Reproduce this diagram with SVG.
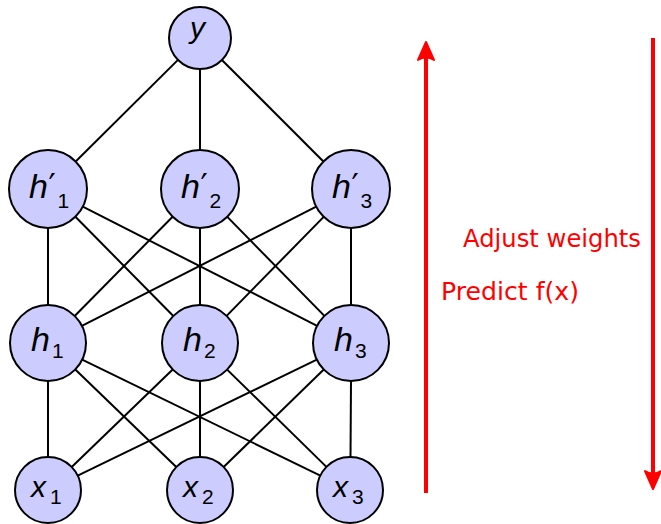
<svg xmlns="http://www.w3.org/2000/svg" width="661" height="524" viewBox="0 0 661 524">
<style>
.n{fill:#ccccff;stroke:#000;stroke-width:2}
.e line{stroke:#000;stroke-width:2}
.v{font-family:"Liberation Sans",Arial,sans-serif;font-style:italic;font-size:34px;fill:#000}
.w{font-family:"Liberation Sans",Arial,sans-serif;font-style:italic;font-size:30px;fill:#000}
.s{font-family:"Liberation Sans",Arial,sans-serif;font-size:21px;fill:#000}
.p{font-family:"DejaVu Sans",sans-serif;font-size:32px;fill:#000}
.r{stroke:#ff0000;stroke-width:4;fill:none}
.t{font-family:"DejaVu Sans",sans-serif;font-size:24.5px;fill:#ff0000}
</style>
<defs>
<marker id="ah" markerUnits="userSpaceOnUse" viewBox="-22 -12 26 24" refX="-10" refY="0" markerWidth="26" markerHeight="24" orient="auto">
<path d="M0,0 L-18,-8 Q-13,0 -18,8 Z" fill="#ff0000" stroke="#ff0000" stroke-width="2" stroke-linejoin="round"/>
</marker>
</defs>
<g id="connectors" class="e">
<line x1="178" y1="59.85" x2="75.67" y2="161.51"/>
<line x1="200" y1="69" x2="200" y2="150"/>
<line x1="221.92" y1="59.92" x2="323.42" y2="161.42"/>
<line x1="48" y1="228" x2="48" y2="305"/>
<line x1="75.4" y1="216.76" x2="173.31" y2="315.96"/>
<line x1="82.77" y1="206.67" x2="317.12" y2="325.78"/>
<line x1="172.6" y1="216.76" x2="74.69" y2="315.96"/>
<line x1="200" y1="228" x2="200" y2="305"/>
<line x1="227.3" y1="216.85" x2="324.4" y2="315.87"/>
<line x1="316.23" y1="206.67" x2="81.88" y2="325.78"/>
<line x1="323.7" y1="216.85" x2="226.6" y2="315.87"/>
<line x1="351" y1="228" x2="351" y2="305"/>
<line x1="48" y1="381" x2="48" y2="457"/>
<line x1="75.31" y1="369.42" x2="176.28" y2="467.06"/>
<line x1="82.17" y1="359.63" x2="320.33" y2="475.56"/>
<line x1="172.69" y1="369.42" x2="71.72" y2="467.06"/>
<line x1="200" y1="381" x2="200" y2="457"/>
<line x1="227.14" y1="369.6" x2="326.43" y2="466.9"/>
<line x1="316.81" y1="359.59" x2="77.69" y2="475.6"/>
<line x1="323.77" y1="369.51" x2="223.64" y2="467"/>
<line x1="351" y1="381" x2="350.5" y2="457"/>
</g>
<g id="y"><circle class="n" cx="200" cy="38" r="31"/><text class="w" x="190" y="38">y</text></g>
<g id="hp1"><circle class="n" cx="48" cy="189" r="39"/><text class="v" x="29" y="198">h</text><text class="p" x="48.5" y="196">′</text><text class="s" x="57.5" y="208">1</text></g>
<g id="hp2"><circle class="n" cx="200" cy="189" r="39"/><text class="v" x="181" y="198">h</text><text class="p" x="200.5" y="196">′</text><text class="s" x="209.5" y="208">2</text></g>
<g id="hp3"><circle class="n" cx="351" cy="189" r="39"/><text class="v" x="332" y="198">h</text><text class="p" x="351.5" y="196">′</text><text class="s" x="360.5" y="208">3</text></g>
<g id="h1"><circle class="n" cx="48" cy="343" r="38"/><text class="v" x="31" y="351">h</text><text class="s" x="52" y="358">1</text></g>
<g id="h2"><circle class="n" cx="200" cy="343" r="38"/><text class="v" x="183" y="351">h</text><text class="s" x="204" y="358">2</text></g>
<g id="h3"><circle class="n" cx="351" cy="343" r="38"/><text class="v" x="334" y="351">h</text><text class="s" x="355" y="358">3</text></g>
<g id="x1"><circle class="n" cx="48" cy="490" r="33"/><text class="w" x="31" y="497">x</text><text class="s" x="50" y="504">1</text></g>
<g id="x2"><circle class="n" cx="200" cy="490" r="33"/><text class="w" x="183" y="497">x</text><text class="s" x="202" y="504">2</text></g>
<g id="x3"><circle class="n" cx="350" cy="490" r="33"/><text class="w" x="333" y="497">x</text><text class="s" x="352" y="504">3</text></g>
<g id="arrows">
<line class="r" x1="426" y1="493" x2="426" y2="52" marker-end="url(#ah)"/>
<line class="r" x1="653" y1="38" x2="653" y2="479" marker-end="url(#ah)"/>
</g>
<text class="t" x="463" y="247" textLength="178" lengthAdjust="spacingAndGlyphs">Adjust weights</text>
<text class="t" x="441" y="300" textLength="138" lengthAdjust="spacingAndGlyphs">Predict f(x)</text>
</svg>
